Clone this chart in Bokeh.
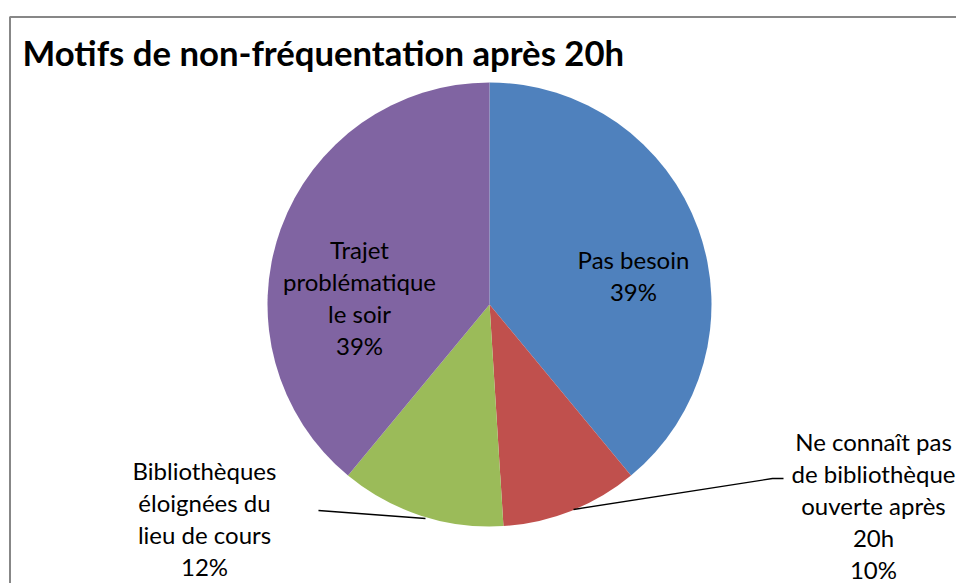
import numpy as np
from bokeh.plotting import figure
from bokeh.models import Range1d, ColumnDataSource
from bokeh.core.properties import value
from bokeh.embed import file_html
from bokeh.resources import INLINE

title = "Motifs de non-fréquentation après 20h"
labels = ["Pas besoin", "Ne connaît pas\nde bibliothèque\nouverte après\n20h",
          "Bibliothèques\néloignées du\nlieu de cours", "Trajet\nproblématique\nle soir"]
percents = [39, 10, 12, 39]
colors = ["#4F81BD", "#C0504D", "#9BBB59", "#8064A2"]

W, H = 956, 583
p = figure(width=W, height=H, output_backend="svg", toolbar_location=None,
           x_range=Range1d(0, W), y_range=Range1d(0, H), min_border=0)
p.axis.visible = False
p.grid.visible = False
p.outline_line_color = None
p.background_fill_color = "white"

vals = np.array(percents, dtype=float)
frac = vals / vals.sum()
cum = np.cumsum(frac)
prev = np.concatenate([[0], cum[:-1]])
starts = np.pi / 2 - 2 * np.pi * prev
ends = np.pi / 2 - 2 * np.pi * cum

cx, cy, r = 489, 279, 222
src = ColumnDataSource(dict(start=starts, end=ends, color=colors))
p.wedge(x=cx, y=cy, radius=r, start_angle="start", end_angle="end",
        direction="clock", fill_color="color", line_color=None, source=src)

# frame
p.line([9.5, 9.5, W + 10], [-10, 566.5, 566.5], line_color="#878787", line_width=2)

# title
p.text(x=[22], y=[531], text=[title], text_font=value("Lato"), text_font_style="bold",
       text_font_size="34.7px", text_color="black", text_baseline="alphabetic", text_align="left")

texts = [f"{l}\n{v}%" for l, v in zip(labels, percents)]
lx = [633, 873, 204, 359]
ly = [308, 78, 65, 286]
p.text(x=lx, y=ly, text=texts, text_font=value("Lato"), text_font_size="24px",
       text_color="black", text_align="center", text_baseline="middle", text_line_height=1.11)

# leader lines
p.line([318, 425], [73, 65], line_color="black", line_width=1.3)
p.line([573, 772, 783], [74, 105, 105], line_color="black", line_width=1.3)

open("out.html", "w").write(file_html(p, INLINE))
